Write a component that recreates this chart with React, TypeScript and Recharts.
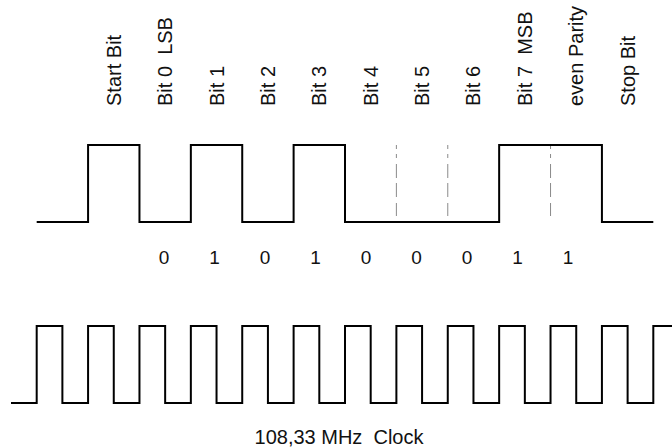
/**
 * Serial frame timing diagram
 */

import { LineChart, Line, XAxis, YAxis, ReferenceLine } from 'recharts';

// frame: idle, start, 8 data bits, parity, stop (time in bit periods)
const BIT_NAMES = [
  'Start Bit', 'Bit 0\u00A0 LSB', 'Bit 1', 'Bit 2', 'Bit 3', 'Bit 4',
  'Bit 5', 'Bit 6', 'Bit 7\u00A0 MSB', 'even Parity', 'Stop Bit',
];
const BIT_CENTERS = [0.5, 1.5, 2.5, 3.5, 4.5, 5.5, 6.5, 7.5, 8.5, 9.5, 10.5];

const SIGNAL_TIMES = [-1, 0, 1, 2, 3, 4, 5, 6, 7, 8, 9, 10, 11];
const SIGNAL_LEVELS = [0, 1, 0, 1, 0, 1, 0, 0, 0, 1, 1, 0, 0];

// printed bit values under bit 0 .. parity
const BIT_VALUES = ['0', '1', '0', '1', '0', '0', '0', '1', '1'];
const VALUE_CENTERS = [1.5, 2.5, 3.5, 4.5, 5.5, 6.5, 7.5, 8.5, 9.5];

// bit borders without an edge
const HIDDEN_EDGES = [6, 7, 9];

const CLOCK_TIMES = [
  -1.5, -1, -0.5, 0, 0.5, 1, 1.5, 2, 2.5, 3, 3.5, 4, 4.5, 5,
  5.5, 6, 6.5, 7, 7.5, 8, 8.5, 9, 9.5, 10, 10.5, 11, 11.5,
];
const CLOCK_LEVELS = [
  0, 1, 0, 1, 0, 1, 0, 1, 0, 1, 0, 1, 0, 1,
  0, 1, 0, 1, 0, 1, 0, 1, 0, 1, 0, 1, 0,
];

const CLOCK_LABEL = '108,33 MHz\u00A0 Clock';

const FONT = '"Liberation Sans", Arial, Helvetica, sans-serif';
const INK = '#111';

const signalData = SIGNAL_TIMES.map((t, i) => ({ t, level: SIGNAL_LEVELS[i] }));
const clockData = CLOCK_TIMES.map((t, i) => ({ t, level: CLOCK_LEVELS[i] }));

const NameTick = (props: any) => {
  const { x, payload } = props;
  const name = BIT_NAMES[BIT_CENTERS.indexOf(payload.value)];
  return (
    <text
      transform={`translate(${x + 7},106) rotate(-90)`}
      textAnchor="start"
      fontSize={20}
      fontFamily={FONT}
      fill={INK}
      style={{ whiteSpace: 'pre' }}
    >
      {name}
    </text>
  );
};

const ValueTick = (props: any) => {
  const { x, payload } = props;
  const v = BIT_VALUES[VALUE_CENTERS.indexOf(payload.value)];
  return (
    <text x={x} y={264} textAnchor="middle" fontSize={19} fontFamily={FONT} fill={INK}>
      {v}
    </text>
  );
};

export default function App() {
  return (
    <div
      style={{
        position: 'absolute', left: 0, top: 0, width: 672, height: 448,
        overflow: 'hidden', background: '#fff', fontFamily: FONT,
      }}
    >
      <div style={{ position: 'absolute', left: 0, top: 0 }}>
        <LineChart width={680} height={275} data={signalData} margin={{ top: 0, right: 1, left: 11, bottom: 0 }}>
          <XAxis
            xAxisId="time" dataKey="t" type="number" domain={[-1.5, 11.5]}
            orientation="top" height={145} ticks={BIT_CENTERS} interval={0}
            axisLine={false} tickLine={false} tick={NameTick}
          />
          <XAxis
            xAxisId="bits" dataKey="t" type="number" domain={[-1.53, 11.7]} allowDataOverflow
            orientation="bottom" height={53} ticks={VALUE_CENTERS} interval={0}
            axisLine={false} tickLine={false} tick={ValueTick}
          />
          <YAxis hide domain={[0, 1]} />
          {HIDDEN_EDGES.map((e) => (
            <ReferenceLine
              key={e} xAxisId="time"
              segment={[{ x: e, y: 0 }, { x: e, y: 1 }]}
              stroke="#8a8a8a" strokeWidth={1}
              strokeDasharray="0 6 13 6 14 5 14 6 4 5 4 40"
            />
          ))}
          <Line
            xAxisId="time" type="stepAfter" dataKey="level" stroke="#000"
            strokeWidth={2} dot={false} isAnimationActive={false}
          />
        </LineChart>
      </div>
      <div style={{ position: 'absolute', left: 0, top: 275 }}>
        <LineChart width={680} height={173} data={clockData} margin={{ top: 51, right: 1, left: 11, bottom: 0 }}>
          <XAxis
            dataKey="t" type="number" domain={[-1.5, 11.5]} height={45}
            axisLine={false} tickLine={false} tick={false}
            label={{ value: CLOCK_LABEL, position: 'insideBottom', offset: 4.5, dx: -6, fontSize: 20, fill: INK, fontFamily: FONT }}
          />
          <YAxis hide domain={[0, 1]} />
          <Line
            type="stepAfter" dataKey="level" stroke="#000"
            strokeWidth={2} dot={false} isAnimationActive={false}
          />
        </LineChart>
      </div>
    </div>
  );
}
